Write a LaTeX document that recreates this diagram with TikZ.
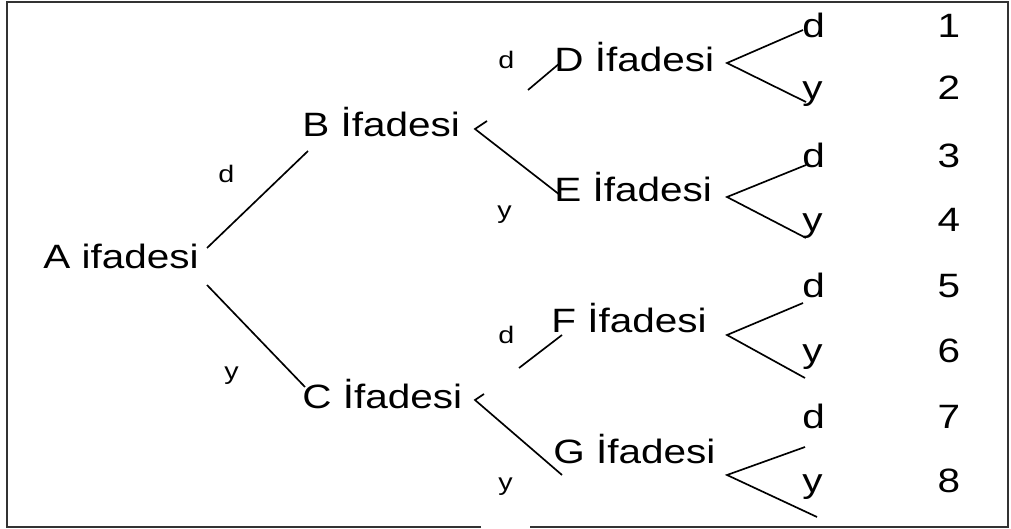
\documentclass[tikz,border=0pt]{standalone}
\usepackage{fontspec}
\setmainfont{Liberation Sans}
\tikzset{
    ifade/.style={anchor=base west, inner sep=0pt, xscale=1.2, font=\fontsize{19.2}{21}\selectfont},
    harf/.style={anchor=base west, inner sep=0pt, xscale=1.2, font=\fontsize{13.6}{15}\selectfont},
    sayi/.style={anchor=base, inner sep=0pt, xscale=1.2, font=\fontsize{19.2}{21}\selectfont},
    dal/.style={line width=0.95pt}
}
\begin{document}
\begin{tikzpicture}[x=0.2mm, y=-0.2mm]
            \useasboundingbox (0,0) rectangle (1011,529);
            % frame, open at the bottom
            \draw[line width=1.1pt, black!80] (481,527) -- (7,527) -- (7,2) -- (1008,2) -- (1008,527) -- (530,527);

            \node[ifade] (A) at (43,268) {A ifadesi};
            \node[ifade] (B) at (302,137) {B İfadesi};
            \node[ifade] (C) at (302,408) {C İfadesi};
            \node[ifade] (D) at (554,72) {D İfadesi};
            \node[ifade] (E) at (554,202) {E İfadesi};
            \node[ifade] (F) at (551,332) {F İfadesi};
            \node[ifade] (G) at (553,463) {G İfadesi};

            % d / y on the first two levels
            \node[harf] (dAB) at (218,183) {d};
            \node[harf] (yAC) at (224,380) {y};
            \node[harf] (dBD) at (498,69) {d};
            \node[harf] (yBE) at (497,219) {y};
            \node[harf] (dCF) at (498,343) {d};
            \node[harf] (yCG) at (498,490) {y};

            \coordinate (AB1) at (207,248);
            \coordinate (AB2) at (308,151);
            \coordinate (AC1) at (207,285);
            \coordinate (AC2) at (305,387);
            \draw[dal] (AB1) -- (AB2);
            \draw[dal] (AC1) -- (AC2);

            \coordinate (Bu) at (487,121);
            \coordinate (Btip) at (475,129);
            \coordinate (BE) at (560,195);
            \coordinate (BD1) at (528,90);
            \coordinate (BD2) at (560,63);
            \draw[dal] (Bu) -- (Btip) -- (BE);
            \draw[dal] (BD1) -- (BD2);

            \coordinate (Cu) at (484,394);
            \coordinate (Ctip) at (475,400);
            \coordinate (CG) at (562,475);
            \coordinate (CF1) at (519,368);
            \coordinate (CF2) at (562,335);
            \draw[dal] (Cu) -- (Ctip) -- (CG);
            \draw[dal] (CF1) -- (CF2);

            % last level
            \foreach \s/\ty/\ux/\uy/\dx/\dy in {D/63/803/30/806/102, E/197/806/165/806/238, F/335/803/303/805/378, G/475/805/447/817/517}
            {
                \coordinate (\s tip) at (727,\ty);
                \coordinate (\s d) at (\ux,\uy);
                \coordinate (\s y) at (\dx,\dy);
                \draw[dal] (\s d) -- (\s tip) -- (\s y);
            }
            \foreach \n/\l/\yy in {1/d/38,2/y/100,3/d/168,4/y/232,5/d/298,6/y/362,7/d/428,8/y/492}
            {
                \node[ifade] (harf\n) at (802,\yy) {\l};
                \node[sayi] (sonuc\n) at (949,\yy) {\n};
            }
\end{tikzpicture}
\end{document}
